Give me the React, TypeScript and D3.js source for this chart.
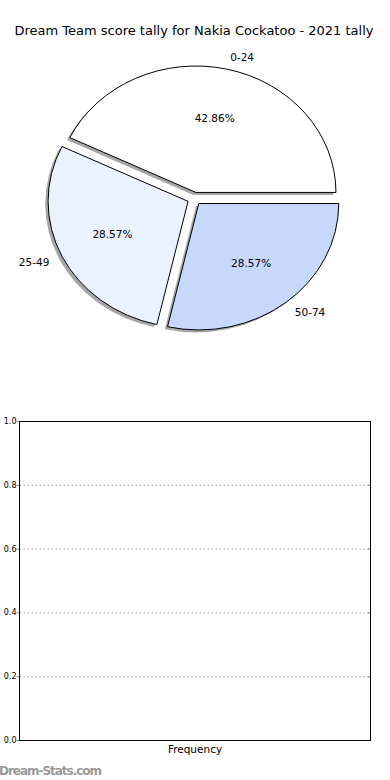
import * as d3 from "d3";

const title = "Dream Team score tally for Nakia Cockatoo - 2021 tally";
const bands = ["0-24", "25-49", "50-74"];
const counts = [3, 2, 2];
const sliceColors = ["#ffffff", "#eaf1ff", "#c6d9fd"];
const yTicks = [0, 0.2, 0.4, 0.6, 0.8, 1.0];
const xLabel = "Frequency";

const W = 390;
const H = 780;
const cx = 194.4;
const cy = 198.6;
const rx = 140;
const ry = 126.4;
const explode = 0.05;

export default function App() {
  const total = d3.sum(counts);
  // matplotlib style: start at 3 o'clock, counterclockwise
  let acc = 0;
  const slices = counts.map((v, i) => {
    const t0 = (acc / total) * 2 * Math.PI;
    acc += v;
    const t1 = (acc / total) * 2 * Math.PI;
    const tm = (t0 + t1) / 2;
    return { i, v, t0, t1, tm, pct: (v / total) * 100 };
  });

  const arc = d3.arc<any>().innerRadius(0).outerRadius(1);
  const path = (s: any) =>
    arc({ startAngle: Math.PI / 2 - s.t1, endAngle: Math.PI / 2 - s.t0 }) as string;

  const plot = { left: 19.5, right: 370.5, top: 421.5, bottom: 740.5 };
  const y = d3.scaleLinear().domain([0, 1]).range([plot.bottom, plot.top]);

  return (
    <svg
      width={W}
      height={H}
      style={{ position: "absolute", left: 0, top: 0, background: "#fff" }}
      fontFamily="DejaVu Sans"
    >
      <text x={194} y={35} fontSize={13} textAnchor="middle" fill="#000">
        {title}
      </text>

      {slices.map((s) => {
        const dx = explode * Math.cos(s.tm);
        const dy = -explode * Math.sin(s.tm);
        return (
          <g key={"sh" + s.i} transform={`translate(${cx},${cy}) scale(${rx},${ry})`}>
            <path
              d={path(s)}
              transform={`translate(${dx - 0.02},${dy + 0.02})`}
              fill="#4d4d4d"
              fillOpacity={0.5}
              stroke="none"
            />
          </g>
        );
      })}
      {slices.map((s) => {
        const dx = explode * Math.cos(s.tm);
        const dy = -explode * Math.sin(s.tm);
        return (
          <g key={"w" + s.i} transform={`translate(${cx},${cy}) scale(${rx},${ry})`}>
            <path
              d={path(s)}
              transform={`translate(${dx},${dy})`}
              fill={sliceColors[s.i]}
              stroke="#000"
              strokeWidth={1}
              strokeLinejoin="round"
              vectorEffect="non-scaling-stroke"
            />
          </g>
        );
      })}
      {slices.map((s) => {
        const c = Math.cos(s.tm);
        const sn = Math.sin(s.tm);
        const lx = cx + (explode + 1.1) * c * rx;
        const ly = cy - (explode + 1.1) * sn * ry;
        const px = cx + (explode + 0.6) * c * rx;
        const py = cy - (explode + 0.6) * sn * ry;
        return (
          <g key={"t" + s.i} fontSize={10.5} fill="#000">
            <text x={lx} y={ly} textAnchor={c > 0 ? "start" : "end"} dominantBaseline="central">
              {bands[s.i]}
            </text>
            <text x={px} y={py} textAnchor="middle" dominantBaseline="central">
              {s.pct.toFixed(2) + "%"}
            </text>
          </g>
        );
      })}

      {yTicks.map((t) => (
        <g key={"y" + t}>
          <line
            x1={plot.left}
            x2={plot.right}
            y1={y(t)}
            y2={y(t)}
            stroke="#a0a0a0"
            strokeWidth={1}
            strokeDasharray="1.5,2.5"
          />
          <line x1={plot.left - 3} x2={plot.left} y1={y(t)} y2={y(t)} stroke="#888" />
          <line x1={plot.right} x2={plot.right - 3} y1={y(t)} y2={y(t)} stroke="#888" />
          <text x={plot.left - 3} y={y(t)} fontSize={8} textAnchor="end" dominantBaseline="central" fill="#000">
            {t.toFixed(1)}
          </text>
        </g>
      ))}
      <rect
        x={plot.left}
        y={plot.top}
        width={plot.right - plot.left}
        height={plot.bottom - plot.top}
        fill="none"
        stroke="#000"
        strokeWidth={1}
      />
      <text x={(plot.left + plot.right) / 2} y={753} fontSize={10.5} textAnchor="middle" fill="#000">
        {xLabel}
      </text>
      <text x={-1} y={775} fontSize={12} fill="#999" fontWeight="bold" textLength={103}>
        Dream-Stats.com
      </text>
    </svg>
  );
}
